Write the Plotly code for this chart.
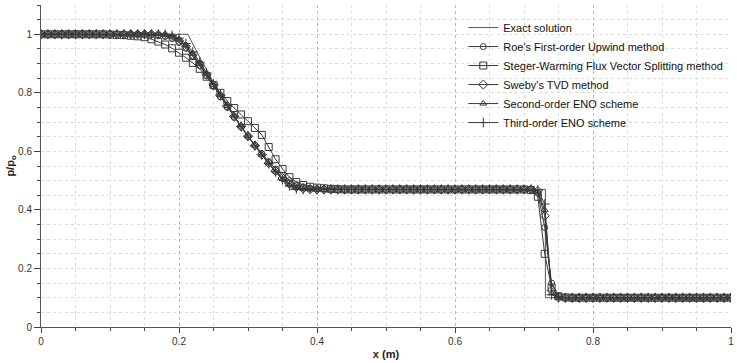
import plotly.graph_objects as go

# Mesh (cell centres) used by the numerical schemes
X_GRID = [round(i * 0.01, 2) for i in range(101)]

# Exact solution
EXACT_X = [0, 0.213, 0.22, 0.23, 0.24, 0.25, 0.26, 0.27, 0.28, 0.29, 0.30, 0.31,
           0.32, 0.33, 0.34, 0.35, 0.36, 0.362, 0.731, 0.731, 1.0]
EXACT_P = [1, 1, 0.967, 0.921, 0.878, 0.836, 0.796, 0.757, 0.72, 0.684, 0.651, 0.618,
           0.587, 0.558, 0.529, 0.502, 0.476, 0.47, 0.47, 0.1, 0.1]

ROE = ([1.0] * 16 +
       [0.999, 0.997, 0.993, 0.985, 0.972, 0.952, 0.925, 0.893, 0.858, 0.822, 0.786,
        0.750, 0.716, 0.683, 0.651, 0.621, 0.592, 0.565, 0.540, 0.518, 0.500, 0.487,
        0.479, 0.474, 0.472, 0.471] +
       [0.47] * 30 +
       [0.458, 0.34, 0.15, 0.106, 0.101] +
       [0.1] * 24)

STEGER = ([1.0] * 10 +
          [0.999, 0.998, 0.997, 0.995, 0.993, 0.99, 0.983, 0.975, 0.965, 0.952, 0.937,
           0.92, 0.902, 0.882, 0.855, 0.827, 0.8, 0.772, 0.748, 0.726, 0.703, 0.68,
           0.656, 0.615, 0.573, 0.54, 0.512, 0.495, 0.485, 0.479, 0.476, 0.474, 0.472,
           0.471] +
          [0.47] * 27 +
          [0.468, 0.445, 0.25, 0.135, 0.105, 0.101] +
          [0.1] * 24)

TVD = ([1.0] * 17 +
       [0.999, 0.996, 0.99, 0.978, 0.958, 0.93, 0.898, 0.862, 0.826, 0.79, 0.754,
        0.719, 0.685, 0.652, 0.62, 0.589, 0.56, 0.533, 0.509, 0.49, 0.478, 0.473,
        0.471, 0.470] +
       [0.47] * 31 +
       [0.465, 0.38, 0.125, 0.101] +
       [0.1] * 25)

ENO2 = ([1.0] * 18 +
        [0.998, 0.993, 0.982, 0.962, 0.933, 0.9, 0.864, 0.827, 0.791, 0.755, 0.72,
         0.685, 0.652, 0.62, 0.589, 0.559, 0.531, 0.505, 0.486, 0.475, 0.471, 0.47] +
        [0.47] * 32 +
        [0.463, 0.4, 0.115, 0.1] +
        [0.1] * 25)

ENO3 = ([1.0] * 19 +
        [0.996, 0.987, 0.968, 0.94, 0.905, 0.868, 0.83, 0.793, 0.756, 0.72, 0.685,
         0.652, 0.619, 0.588, 0.558, 0.53, 0.503, 0.482, 0.472, 0.47] +
        [0.47] * 33 +
        [0.468, 0.42, 0.11, 0.1] +
        [0.1] * 25)

NAMES = ["Exact solution",
         "Roe's First-order Upwind method",
         "Steger-Warming Flux Vector Splitting method",
         "Sweby's TVD method",
         "Second-order ENO scheme",
         "Third-order ENO scheme"]

TICKS = [0, 0.2, 0.4, 0.6, 0.8, 1]
TICK_TEXT = ["0", "0.2", "0.4", "0.6", "0.8", "1"]

FONT = "Liberation Sans"
LINE_C = "#3a3a3a"

fig = go.Figure()
fig.add_trace(go.Scatter(x=EXACT_X, y=EXACT_P, mode="lines", name=NAMES[0],
                         line=dict(color="#555555", width=1)))

series = [(ROE, "circle-open", 6), (STEGER, "square-open", 7), (TVD, "diamond-open", 7),
          (ENO2, "triangle-up-open", 6), (ENO3, "cross-thin-open", 7)]
for (vals, sym, sz), name in zip(series, NAMES[1:]):
    fig.add_trace(go.Scatter(x=X_GRID, y=vals, mode="lines+markers", name=name,
                             line=dict(color=LINE_C, width=1),
                             marker=dict(symbol=sym, size=sz, color=LINE_C,
                                         line=dict(color=LINE_C, width=1))))

fig.update_layout(
    width=737, height=363,
    margin=dict(l=41, r=3, t=5, b=36),
    paper_bgcolor="white", plot_bgcolor="white",
    font=dict(family=FONT, size=10, color="#333333"),
    showlegend=True,
    legend=dict(x=0.612, y=0.975, xanchor="left", yanchor="top",
                bgcolor="rgba(0,0,0,0)", font=dict(family=FONT, size=11, color="#111111"),
                itemwidth=30, tracegroupgap=0),
    xaxis=dict(range=[0, 1], tickvals=TICKS, ticktext=TICK_TEXT,
               ticklabeloverflow="allow",
               ticks="outside", ticklen=5, tickcolor="#444444",
               showline=True, linecolor="#555555", linewidth=1,
               showgrid=True, gridcolor="#b8b8b8", griddash="dot", gridwidth=1,
               zeroline=False,
               minor=dict(dtick=0.05, ticks="outside", ticklen=3, tickcolor="#444444",
                          showgrid=True, gridcolor="#dddddd", griddash="dot"),
               title=dict(text="<b>x (m)</b>", font=dict(family=FONT, size=11, color="#222222"),
                          standoff=4)),
    yaxis=dict(range=[0, 1.1], tickvals=TICKS, ticktext=TICK_TEXT,
               ticklabeloverflow="allow",
               ticks="outside", ticklen=6, tickcolor="#444444",
               showline=True, linecolor="#555555", linewidth=1,
               showgrid=True, gridcolor="#dddddd", griddash="dot", gridwidth=1,
               zeroline=False,
               minor=dict(dtick=0.05, ticks="outside", ticklen=3, tickcolor="#444444",
                          showgrid=True, gridcolor="#dddddd", griddash="dot"),
               title=dict(text="<b>p/p<sub>o</sub></b>", font=dict(family=FONT, size=11, color="#222222"),
                          standoff=0)),
)

fig.write_html("out.html")
